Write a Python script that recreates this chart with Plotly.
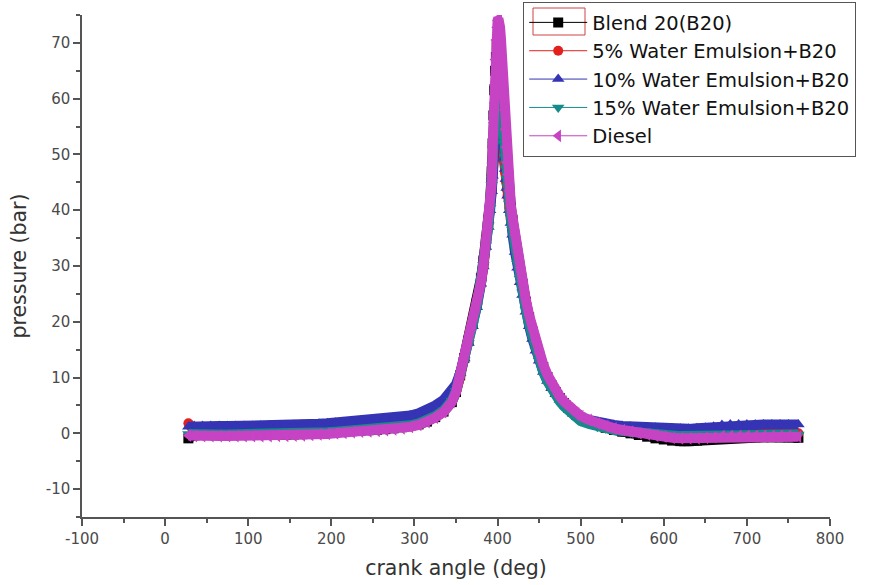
import plotly.graph_objects as go

# crank angle samples (deg)
crank_angle = [
    28, 35, 45, 55, 65, 75, 85, 95, 105, 115, 125, 135, 145, 155,
    165, 175, 185, 195, 205, 215, 225, 235, 245, 255, 265, 275, 285, 295,
    305, 315, 325, 335, 345, 350, 355, 360, 365, 370, 375, 380, 383, 386,
    389, 391, 393, 394, 395, 396, 397, 398, 399, 400, 401, 402, 403, 404,
    405, 406, 407, 408, 409, 410, 411, 412, 414, 416, 418, 421, 424, 427, 430,
    434, 438, 442, 446, 450, 455, 460, 465, 470, 475, 480, 485, 490, 495, 500,
    510, 520, 530, 540, 550, 560, 570, 580, 590, 600, 610, 620, 630, 640,
    650, 660, 670, 680, 690, 700, 710, 720, 730, 740, 750, 762,
]

# pressure (bar) for each fuel
p_b20 = [
    -0.9, -0.35, -0.3, -0.3, -0.3, -0.3, -0.3, -0.3, -0.3, -0.3, -0.3, -0.25, -0.25, -0.2,
    -0.15, -0.1, 0.0, 0.1, 0.2, 0.3, 0.4, 0.5, 0.55, 0.65, 0.75, 0.9, 1.1, 1.35,
    1.6, 2.1, 2.9, 3.9, 5.6, 7.4, 10.4, 13.5, 16.6, 19.8, 23.4, 27.8, 31.0, 34.6,
    38.3, 41.5, 47.0, 52.0, 57.0, 61.5, 65.0, 67.5, 69.5, 70.3, 70.2, 69.3, 67.8, 65.8,
    63.3, 60.5, 57.5, 54.6, 52.0, 49.7, 47.7, 46.0, 43.0, 40.5, 38.3, 35.0, 32.0, 29.3, 26.8,
    23.6, 20.8, 18.3, 16.0, 14.0, 11.9, 10.1, 8.6, 7.4, 6.3, 5.4, 4.6, 3.9, 3.3, 2.8,
    2.1, 1.5, 1.0, 0.6, 0.3, 0.0, -0.3, -0.6, -0.9, -1.1, -1.3, -1.4, -1.4, -1.3,
    -1.2, -1.0, -0.8, -0.7, -0.7, -0.7, -0.7, -0.7, -0.7, -0.7, -0.7, -0.8,
]
p_w5 = [
    1.8, 0.4, 0.1, 0.0, 0.0, 0.0, 0.0, 0.0, 0.0, 0.0, 0.05, 0.05, 0.1, 0.15,
    0.2, 0.25, 0.35, 0.45, 0.55, 0.65, 0.75, 0.85, 0.9, 1.0, 1.1, 1.25, 1.4, 1.6,
    1.8, 2.4, 3.2, 4.3, 5.9, 7.4, 10.2, 13.2, 16.2, 19.4, 22.8, 26.8, 29.9, 33.4,
    37.0, 40.0, 43.5, 46.5, 49.5, 52.5, 55.2, 57.5, 59.2, 60.2, 60.5, 60.0, 58.8, 57.0,
    55.0, 52.8, 50.6, 48.6, 46.8, 45.2, 43.8, 42.6, 40.4, 38.4, 36.6, 33.8, 31.2, 28.7, 26.4,
    23.3, 20.6, 18.2, 16.0, 14.0, 12.0, 10.2, 8.7, 7.5, 6.4, 5.5, 4.7, 4.0, 3.4, 2.9,
    2.2, 1.7, 1.3, 1.0, 0.8, 0.6, 0.4, 0.2, 0.1, 0.0, -0.1, -0.2, -0.2, -0.2,
    -0.1, 0.0, 0.0, 0.0, 0.0, 0.0, 0.0, 0.0, 0.0, 0.0, 0.0, 0.0,
]
p_w10 = [
    1.2, 1.3, 1.3, 1.3, 1.3, 1.3, 1.3, 1.3, 1.3, 1.35, 1.4, 1.4, 1.45, 1.5,
    1.55, 1.6, 1.7, 1.8, 1.9, 2.0, 2.1, 2.2, 2.3, 2.4, 2.5, 2.7, 2.9, 3.2,
    3.6, 4.2, 5.0, 6.0, 7.5, 8.8, 10.8, 13.4, 16.2, 19.2, 22.6, 26.8, 29.9, 33.4,
    37.0, 40.0, 43.4, 46.2, 49.2, 52.3, 55.2, 57.8, 60.0, 61.6, 62.2, 61.8, 60.5, 58.6,
    56.4, 54.0, 51.6, 49.4, 47.4, 45.6, 44.0, 42.6, 40.0, 37.7, 35.6, 32.5, 29.7, 27.1, 24.8,
    21.8, 19.2, 16.9, 14.8, 13.0, 11.0, 9.4, 8.1, 7.0, 6.0, 5.2, 4.5, 3.9, 3.4, 3.0,
    2.4, 2.0, 1.7, 1.5, 1.3, 1.2, 1.1, 1.0, 1.0, 0.9, 0.8, 0.8, 0.8, 0.9,
    1.0, 1.2, 1.5, 1.6, 1.6, 1.6, 1.6, 1.6, 1.6, 1.6, 1.6, 1.6,
]
p_w15 = [
    -0.1, -0.2, -0.2, -0.2, -0.2, -0.2, -0.2, -0.2, -0.2, -0.2, -0.2, -0.15, -0.15, -0.1,
    -0.05, 0.0, 0.1, 0.2, 0.3, 0.4, 0.5, 0.6, 0.65, 0.75, 0.85, 1.0, 1.2, 1.45,
    1.8, 2.3, 3.1, 4.1, 5.9, 7.6, 10.3, 13.2, 16.2, 19.4, 22.8, 27.0, 30.2, 33.7,
    37.3, 40.4, 44.5, 48.0, 51.7, 55.3, 58.8, 61.8, 64.0, 65.4, 66.0, 65.6, 64.3, 62.3,
    59.9, 57.2, 54.5, 51.9, 49.6, 47.5, 45.7, 44.1, 41.2, 38.7, 36.5, 33.3, 30.4, 27.7, 25.3,
    22.2, 19.5, 17.1, 14.9, 13.0, 11.0, 9.3, 7.9, 6.7, 5.7, 4.8, 4.0, 3.3, 2.7, 2.2,
    1.7, 1.2, 0.9, 0.6, 0.4, 0.2, 0.0, -0.1, -0.2, -0.3, -0.4, -0.5, -0.5, -0.5,
    -0.4, -0.3, -0.2, -0.2, -0.2, -0.2, -0.2, -0.2, -0.2, -0.2, -0.2, -0.2,
]
p_diesel = [
    -0.4, -0.5, -0.5, -0.5, -0.5, -0.5, -0.5, -0.5, -0.5, -0.5, -0.5, -0.45, -0.45, -0.4,
    -0.35, -0.3, -0.2, -0.1, 0.0, 0.1, 0.2, 0.3, 0.35, 0.45, 0.55, 0.7, 0.9, 1.15,
    1.5, 2.0, 2.8, 3.8, 5.6, 7.4, 10.5, 13.4, 16.2, 19.2, 22.6, 27.0, 30.2, 33.8,
    37.4, 40.2, 45.0, 51.0, 57.0, 62.5, 67.0, 70.5, 72.8, 74.0, 74.4, 74.0, 72.8, 71.0,
    68.5, 65.4, 61.8, 58.0, 54.5, 51.3, 48.6, 46.4, 43.5, 41.0, 38.8, 35.5, 32.5, 29.7, 27.2,
    24.0, 21.2, 18.7, 16.4, 14.4, 12.3, 10.5, 9.0, 7.7, 6.6, 5.7, 4.9, 4.2, 3.6, 3.1,
    2.4, 1.8, 1.3, 0.9, 0.6, 0.3, 0.0, -0.2, -0.4, -0.6, -0.8, -0.9, -0.9, -0.9,
    -0.8, -0.7, -0.5, -0.5, -0.5, -0.5, -0.5, -0.5, -0.5, -0.5, -0.5, -0.6,
]

series_names = ["Blend 20(B20)", "5% Water Emulsion+B20", "10% Water Emulsion+B20",
                "15% Water Emulsion+B20", "Diesel"]
series_values = [p_b20, p_w5, p_w10, p_w15, p_diesel]
series_colors = ["#000000", "#E3201E", "#3434B4", "#178A8A", "#C643C4"]
series_symbols = ["square", "circle", "triangle-up", "triangle-down", "triangle-left"]
series_sizes = [10, 10, 11, 11, 11]

for vals in series_values:
    assert len(vals) == len(crank_angle), (len(vals), len(crank_angle))

x_ticks = [-100, 0, 100, 200, 300, 400, 500, 600, 700, 800]
x_labels = ["-100", "0", "100", "200", "300", "400", "500", "600", "700", "800"]
y_ticks = [-10, 0, 10, 20, 30, 40, 50, 60, 70]
y_labels = ["-10", "0", "10", "20", "30", "40", "50", "60", "70"]

fig = go.Figure()
for name, vals, col, sym, sz in zip(series_names, series_values, series_colors,
                                    series_symbols, series_sizes):
    # dense band formed by the overlapping symbols
    fig.add_trace(go.Scatter(
        x=crank_angle, y=vals, mode="lines", legendgroup=name, showlegend=False,
        line=dict(color=col, width=10), hoverinfo="skip",
    ))
    fig.add_trace(go.Scatter(
        x=crank_angle, y=vals, name=name, mode="lines+markers", legendgroup=name,
        line=dict(color=col, width=1),
        marker=dict(symbol=sym, size=sz, color=col, line=dict(width=0)),
    ))

font_family = "DejaVu Sans, Liberation Sans, Arial, sans-serif"
axis_common = dict(
    showline=True, linecolor="#555555", linewidth=1.5,
    ticks="outside", ticklen=7, tickwidth=1.5, tickcolor="#555555",
    showgrid=False, zeroline=False, mirror=False, automargin=False,
    tickfont=dict(family=font_family, size=15, color="#4a4a4a"),
)

W, H = 873, 585
L, R, T, B = 82, 0, 2, 68
plot_right, plot_top = 830, 15

fig.update_layout(
    width=W, height=H,
    margin=dict(l=L, r=R, t=T, b=B),
    paper_bgcolor="white", plot_bgcolor="white",
    font=dict(family=font_family),
    xaxis=dict(
        domain=[0, (plot_right - L) / (W - L - R)],
        range=[-100, 800], tickvals=x_ticks, ticktext=x_labels,
        minor=dict(dtick=50, tick0=0, ticks="outside", ticklen=4, tickwidth=1.5, tickcolor="#555555"),
        title=dict(text="crank angle (deg)", font=dict(size=20.5, color="#333333"), standoff=14),
        **axis_common,
    ),
    yaxis=dict(
        domain=[0, (H - B - plot_top) / (H - B - T)],
        range=[-15, 75], tickvals=y_ticks, ticktext=y_labels,
        minor=dict(dtick=5, tick0=0, ticks="outside", ticklen=4, tickwidth=1.5, tickcolor="#555555"),
        title=dict(text="pressure (bar)", font=dict(size=20.5, color="#333333"), standoff=14),
        **axis_common,
    ),
    legend=dict(
        x=(523 - L) / (W - L - R), y=1.0, xanchor="left", yanchor="top",
        bgcolor="rgba(255,255,255,0)", bordercolor="#555555", borderwidth=1.2,
        font=dict(family=font_family, size=19.5, color="#111111"),
        tracegroupgap=0, itemwidth=58,
    ),
    showlegend=True,
    shapes=[dict(
        type="rect", xref="paper", yref="paper", layer="above",
        x0=(533 - L) / (W - L - R), x1=(585 - L) / (W - L - R),
        y0=(H - B - 35) / (H - B - T), y1=(H - B - 8) / (H - B - T),
        line=dict(color="#D04040", width=1), fillcolor="rgba(0,0,0,0)",
    )],
)

fig.write_html("out.html", config={"displayModeBar": False},
               post_script="document.body.style.margin='0px';")
